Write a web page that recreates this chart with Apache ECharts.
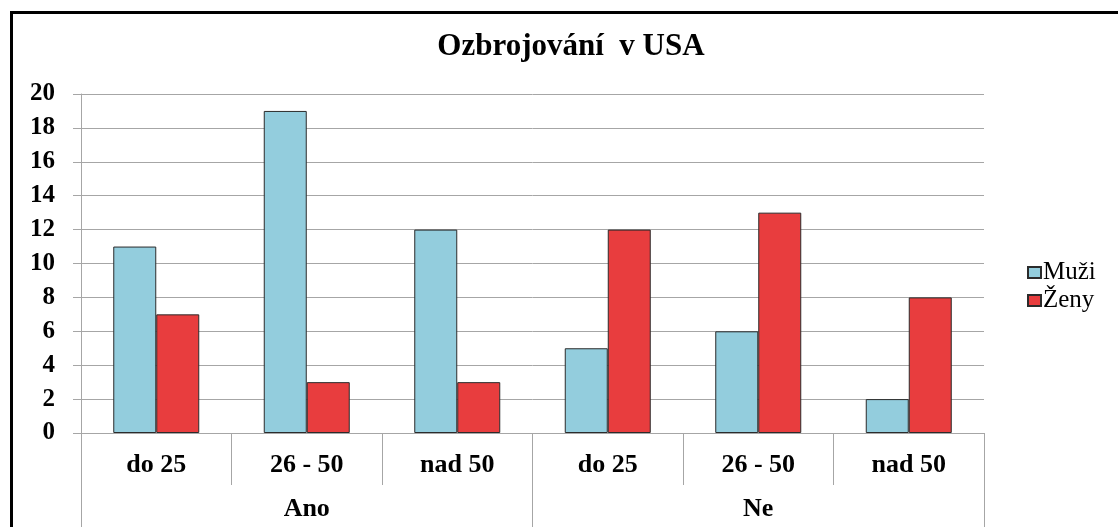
<!DOCTYPE html>
<html>
<head>
<meta charset="utf-8">
<title>Ozbrojování v USA</title>
<script src="https://cdn.jsdelivr.net/npm/echarts@6/dist/echarts.min.js"></script>
<style>
  html, body { margin: 0; padding: 0; background: #fff; overflow: hidden; }
  #chart { position: absolute; left: 0; top: 0; width: 1118px; height: 527px; }
  #frame { position: absolute; left: 10px; top: 11px; width: 1200px; height: 600px;
           border-left: 3px solid #000; border-top: 3px solid #000; pointer-events: none; }
</style>
</head>
<body>
<div id="chart"></div>
<div id="frame"></div>
<script>
// data
var answers = ['Ano', 'Ne'];
var ageGroups = ['do 25', '26 - 50', 'nad 50'];
var muzi = [11, 19, 12, 5, 6, 2];
var zeny = [7, 3, 3, 12, 13, 8];
var yTicks = [0, 2, 4, 6, 8, 10, 12, 14, 16, 18, 20];

// one category per age group inside each answer
var categories = [];
answers.forEach(function () {
    ageGroups.forEach(function (a) { categories.push(a); });
});

var serif = '"Liberation Serif", "Times New Roman", serif';
var gridGray = '#a6a6a6';

var myChart = echarts.init(document.getElementById('chart'));
var option = {
    animation: false,
    backgroundColor: '#fff',
    title: {
        text: 'Ozbrojování  v USA',
        left: 571,
        top: 31,
        padding: 0,
        textAlign: 'center',
        textStyle: { fontFamily: serif, fontWeight: 'bold', fontSize: 31, color: '#000' }
    },
    legend: {
        orient: 'vertical',
        left: 1022,
        top: 255,
        icon: 'rect',
        itemWidth: 13,
        itemHeight: 11,
        itemGap: 3,
        textStyle: { fontFamily: serif, fontSize: 25, color: '#000', padding: [0, 0, 0, -3] },
        data: ['Muži', 'Ženy']
    },
    grid: { left: 81, right: 134, top: 94, bottom: 94, containLabel: false },
    xAxis: [{
        type: 'category',
        data: categories,
        axisLine: { lineStyle: { color: gridGray, width: 1 } },
        axisTick: { show: true, interval: 0, length: 52, lineStyle: { color: gridGray } },
        axisLabel: { interval: 0, margin: 19, fontFamily: serif, fontWeight: 'bold', fontSize: 26, color: '#000' }
    }, {
        type: 'category',
        data: answers,
        position: 'bottom',
        axisLine: { show: false },
        axisTick: { show: true, interval: 0, length: 94, lineStyle: { color: gridGray } },
        axisLabel: { interval: 0, margin: 63, fontFamily: serif, fontWeight: 'bold', fontSize: 26, color: '#000' }
    }],
    yAxis: {
        type: 'value',
        min: yTicks[0],
        max: yTicks[yTicks.length - 1],
        interval: 2,
        axisLine: { show: true, lineStyle: { color: gridGray } },
        axisTick: { show: true, length: 8, lineStyle: { color: gridGray } },
        splitLine: { lineStyle: { color: gridGray } },
        axisLabel: { margin: 26, fontFamily: serif, fontWeight: 'bold', fontSize: 25, color: '#000' }
    },
    series: [{
        name: 'Muži',
        type: 'bar',
        data: muzi,
        barWidth: 43,
        barGap: '0%',
        itemStyle: { color: '#93cddd', borderColor: '#2b2b2b', borderWidth: 1 }
    }, {
        name: 'Ženy',
        type: 'bar',
        data: zeny,
        barWidth: 43,
        barGap: '0%',
        itemStyle: { color: '#e83d3e', borderColor: '#2b2b2b', borderWidth: 1 }
    }]
};
myChart.setOption(option);
</script>
</body>
</html>
